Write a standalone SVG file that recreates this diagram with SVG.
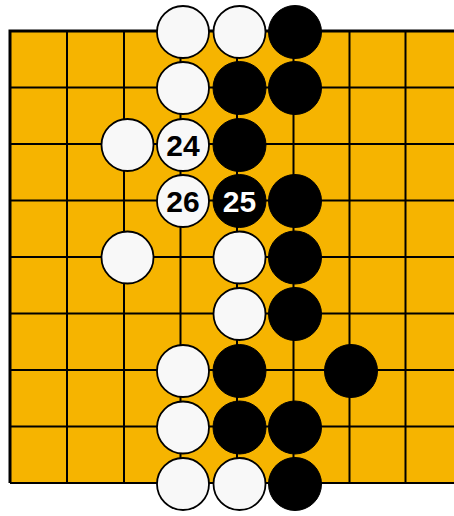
<svg xmlns="http://www.w3.org/2000/svg" width="454" height="516" viewBox="0 0 454 516">
<style>
.ln{stroke:#000;stroke-width:2;fill:none}
.w{fill:#f8f8f8;stroke:#000;stroke-width:1.8}
.b{fill:#000;stroke:#000;stroke-width:1}
.t{font-family:"Liberation Sans",Arial,sans-serif;font-weight:bold;font-size:30px;text-anchor:middle}
</style>
<rect width="454" height="516" fill="#fff"/>
<g id="board">
<rect x="10" y="31" width="444" height="452" fill="#f6b400"/>
<path class="ln" d="M10,31H454M10,87.5H454M10,144H454M10,200.5H454M10,257H454M10,313.5H454M10,370H454M10,426.5H454M10,483H454"/>
<path class="ln" d="M10,31V483M67,31V483M124,31V483M180.5,31V483M237,31V483M293.5,31V483M349.5,31V483M405.5,31V483"/>
<path stroke="#000" stroke-width="3" fill="none" d="M10,483V31H454"/>
</g>
<g id="stones">
<circle class="w" cx="183" cy="32" r="26"/>
<circle class="w" cx="239.5" cy="32" r="26"/>
<circle class="b" cx="295" cy="32" r="26.5"/>
<circle class="w" cx="183" cy="88" r="26"/>
<circle class="b" cx="239.5" cy="88" r="26.5"/>
<circle class="b" cx="295" cy="88" r="26.5"/>
<circle class="w" cx="127.5" cy="145" r="26"/>
<g id="s24"><circle class="w" cx="183" cy="145" r="26"/><text class="t" x="183" y="156" fill="#000">24</text></g>
<circle class="b" cx="239.5" cy="145" r="26.5"/>
<g id="s26"><circle class="w" cx="183" cy="201" r="26"/><text class="t" x="183" y="212" fill="#000">26</text></g>
<g id="s25"><circle class="b" cx="239.5" cy="201" r="26.5"/><text class="t" x="239.5" y="212" fill="#fff">25</text></g>
<circle class="b" cx="295" cy="201" r="26.5"/>
<circle class="w" cx="127.5" cy="257.5" r="26"/>
<circle class="w" cx="239.5" cy="257.5" r="26"/>
<circle class="b" cx="295" cy="257.5" r="26.5"/>
<circle class="w" cx="239.5" cy="314" r="26"/>
<circle class="b" cx="295" cy="314" r="26.5"/>
<circle class="w" cx="183" cy="371" r="26"/>
<circle class="b" cx="239.5" cy="371" r="26.5"/>
<circle class="b" cx="351" cy="371" r="26.5"/>
<circle class="w" cx="183" cy="427.5" r="26"/>
<circle class="b" cx="239.5" cy="427.5" r="26.5"/>
<circle class="b" cx="295" cy="427.5" r="26.5"/>
<circle class="w" cx="183" cy="484" r="26"/>
<circle class="w" cx="239.5" cy="484" r="26"/>
<circle class="b" cx="295" cy="484" r="26.5"/>
</g>
</svg>
